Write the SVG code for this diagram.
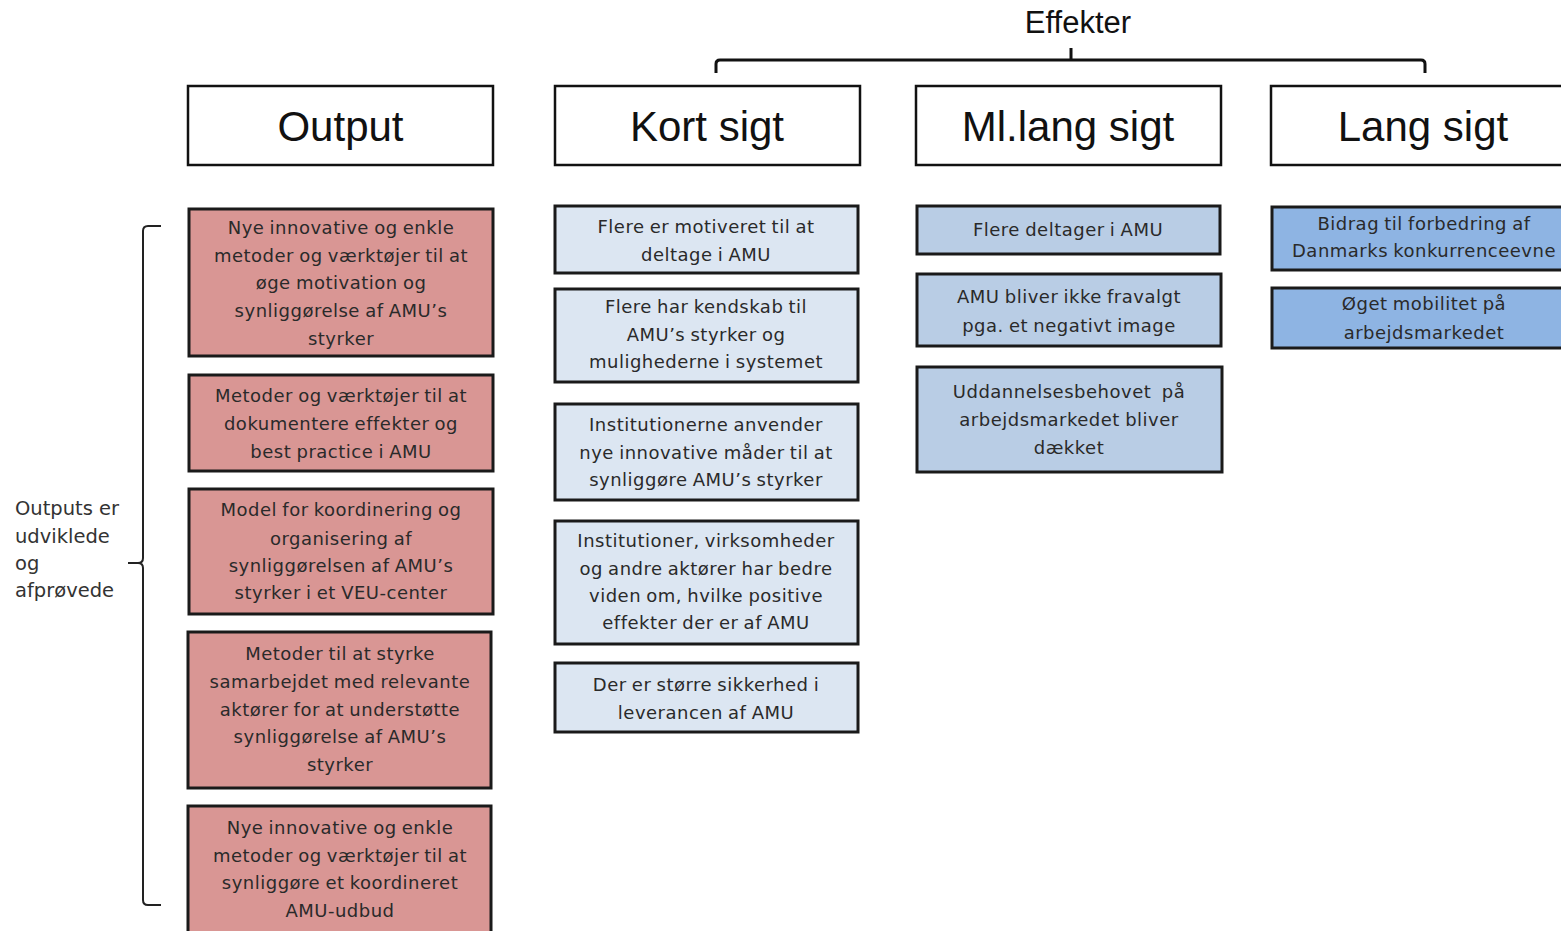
<svg xmlns="http://www.w3.org/2000/svg" width="1561" height="931" viewBox="0 0 1561 931">
<style>
.hdr{fill:#fff;stroke:#111;stroke-width:2.5}
.ht{font-family:"Liberation Sans",Arial,sans-serif;font-size:42px;fill:#111;text-anchor:middle}
.out{fill:#d99694;stroke:#1a1a1a;stroke-width:3}
.ks{fill:#dce6f2;stroke:#1a1a1a;stroke-width:3}
.ml{fill:#b9cde5;stroke:#1a1a1a;stroke-width:3}
.ls{fill:#8eb4e3;stroke:#1a1a1a;stroke-width:3}
.bt{font-family:"DejaVu Sans",Verdana,sans-serif;font-size:18px;fill:#2a2a2a;text-anchor:middle;word-spacing:-1px;letter-spacing:0.5px}
.lbl{font-family:"DejaVu Sans",Verdana,sans-serif;font-size:19.5px;fill:#333}
.br{fill:none;stroke:#222;stroke-width:2}
.br3{fill:none;stroke:#111;stroke-width:3}
</style>
<rect width="1561" height="931" fill="#fff"/>
<g id="effekter">
<text x="1078" y="33" font-family="Liberation Sans,Arial,sans-serif" font-size="31" fill="#111" text-anchor="middle">Effekter</text>
</g>
<g id="connectors">
<path class="br3" d="M716,73 L716,64 Q716,60 720,60 L1421,60 Q1425,60 1425,64 L1425,73 M1071,60 L1071,48"/>
<path class="br" d="M161,226 L148,226 Q143,226 143,231 L143,558 Q143,563 138,563 L128,563 M138,563 Q143,563 143,568 L143,900 Q143,905 148,905 L161,905"/>
</g>
<g id="h-output"><rect class="hdr" x="188" y="86" width="305" height="79"/><text class="ht" x="340.5" y="141">Output</text></g>
<g id="h-kort"><rect class="hdr" x="555" y="86" width="305" height="79"/><text class="ht" x="707" y="141">Kort sigt</text></g>
<g id="h-ml"><rect class="hdr" x="916" y="86" width="305" height="79"/><text class="ht" x="1068" y="141">Ml.lang sigt</text></g>
<g id="h-lang"><rect class="hdr" x="1271" y="86" width="305" height="79"/><text class="ht" x="1423" y="141">Lang sigt</text></g>

<g id="label-outputs">
<text class="lbl" x="15" y="515">Outputs er</text>
<text class="lbl" x="15" y="543">udviklede</text>
<text class="lbl" x="15" y="570">og</text>
<text class="lbl" x="15" y="597">afprøvede</text>
</g>

<g id="o1"><rect class="out" x="189" y="209" width="304" height="147"/>
<text class="bt"><tspan x="341" y="234">Nye innovative og enkle</tspan><tspan x="341" y="262">metoder og værktøjer til at</tspan><tspan x="341" y="289">øge motivation og</tspan><tspan x="341" y="317">synliggørelse af AMU’s</tspan><tspan x="341" y="345">styrker</tspan></text></g>
<g id="o2"><rect class="out" x="189" y="375" width="304" height="96"/>
<text class="bt"><tspan x="341" y="402">Metoder og værktøjer til at</tspan><tspan x="341" y="430">dokumentere effekter og</tspan><tspan x="341" y="458">best practice i AMU</tspan></text></g>
<g id="o3"><rect class="out" x="189" y="489" width="304" height="125"/>
<text class="bt"><tspan x="341" y="516">Model for koordinering og</tspan><tspan x="341" y="545">organisering af</tspan><tspan x="341" y="572">synliggørelsen af AMU’s</tspan><tspan x="341" y="599">styrker i et VEU-center</tspan></text></g>
<g id="o4"><rect class="out" x="188" y="632" width="303" height="156"/>
<text class="bt"><tspan x="340" y="660">Metoder til at styrke</tspan><tspan x="340" y="688">samarbejdet med relevante</tspan><tspan x="340" y="716">aktører for at understøtte</tspan><tspan x="340" y="743">synliggørelse af AMU’s</tspan><tspan x="340" y="771">styrker</tspan></text></g>
<g id="o5"><rect class="out" x="188" y="806" width="303" height="135"/>
<text class="bt"><tspan x="340" y="834">Nye innovative og enkle</tspan><tspan x="340" y="862">metoder og værktøjer til at</tspan><tspan x="340" y="889">synliggøre et koordineret</tspan><tspan x="340" y="917">AMU-udbud</tspan></text></g>

<g id="k1"><rect class="ks" x="555" y="206" width="303" height="67"/>
<text class="bt"><tspan x="706" y="233">Flere er motiveret til at</tspan><tspan x="706" y="261">deltage i AMU</tspan></text></g>
<g id="k2"><rect class="ks" x="555" y="289" width="303" height="93"/>
<text class="bt"><tspan x="706" y="313">Flere har kendskab til</tspan><tspan x="706" y="341">AMU’s styrker og</tspan><tspan x="706" y="368">mulighederne i systemet</tspan></text></g>
<g id="k3"><rect class="ks" x="555" y="404" width="303" height="96"/>
<text class="bt"><tspan x="706" y="431">Institutionerne anvender</tspan><tspan x="706" y="459">nye innovative måder til at</tspan><tspan x="706" y="486">synliggøre AMU’s styrker</tspan></text></g>
<g id="k4"><rect class="ks" x="555" y="521" width="303" height="123"/>
<text class="bt"><tspan x="706" y="547">Institutioner, virksomheder</tspan><tspan x="706" y="575">og andre aktører har bedre</tspan><tspan x="706" y="602">viden om, hvilke positive</tspan><tspan x="706" y="629">effekter der er af AMU</tspan></text></g>
<g id="k5"><rect class="ks" x="555" y="663" width="303" height="69"/>
<text class="bt"><tspan x="706" y="691">Der er større sikkerhed i</tspan><tspan x="706" y="719">leverancen af AMU</tspan></text></g>

<g id="m1"><rect class="ml" x="917" y="206" width="303" height="48"/>
<text class="bt"><tspan x="1068" y="236">Flere deltager i AMU</tspan></text></g>
<g id="m2"><rect class="ml" x="917" y="274" width="304" height="72"/>
<text class="bt"><tspan x="1069" y="303">AMU bliver ikke fravalgt</tspan><tspan x="1069" y="332">pga. et negativt image</tspan></text></g>
<g id="m3"><rect class="ml" x="917" y="367" width="305" height="105"/>
<text class="bt" xml:space="preserve"><tspan x="1069" y="398">Uddannelsesbehovet  på</tspan><tspan x="1069" y="426">arbejdsmarkedet bliver</tspan><tspan x="1069" y="454">dækket</tspan></text></g>

<g id="l1"><rect class="ls" x="1272" y="207" width="300" height="63"/>
<text class="bt"><tspan x="1424" y="230">Bidrag til forbedring af</tspan><tspan x="1424" y="257">Danmarks konkurrenceevne</tspan></text></g>
<g id="l2"><rect class="ls" x="1272" y="288" width="300" height="60"/>
<text class="bt"><tspan x="1424" y="310">Øget mobilitet på</tspan><tspan x="1424" y="339">arbejdsmarkedet</tspan></text></g>
</svg>
